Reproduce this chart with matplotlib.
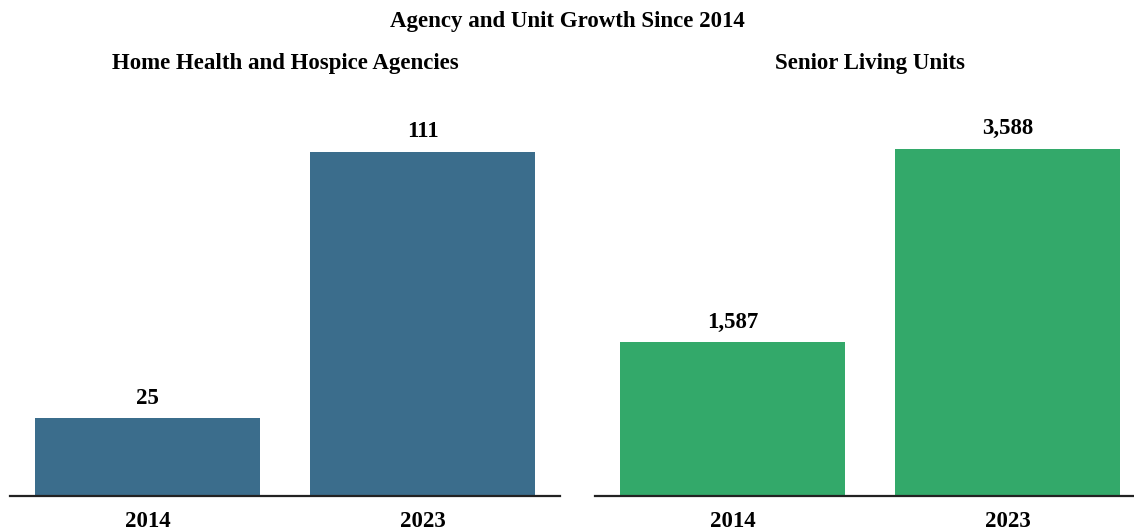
import matplotlib
matplotlib.use("Agg")
import matplotlib.pyplot as plt

plt.rcParams['font.family'] = ['Liberation Serif', 'DejaVu Serif']

suptitle = "Agency and Unit Growth Since 2014"
years = ["2014", "2023"]
agency_title = "Home Health and Hospice Agencies"
agency_values = [25, 111]
units_title = "Senior Living Units"
units_values = [1587, 3588]

W, H = 1134, 531
FS = 16.5
fig = plt.figure(figsize=(W / 100, H / 100), dpi=100)

def px_axes(x0, x1, ytop, ybot):
    return fig.add_axes([x0 / W, (H - ybot) / H, (x1 - x0) / W, (ybot - ytop) / H])

panels = [
    (px_axes(10, 560, 100, 496), agency_title, agency_values, "#3b6d8c", 1.15),
    (px_axes(595, 1145, 100, 496), units_title, units_values, "#33a96a", 1.14),
]

for ax, title, vals, color, top in panels:
    x = list(range(len(years)))
    ax.bar(x, vals, width=0.82, color=color)
    ax.set_xlim(-0.5, 1.5)
    ax.set_ylim(0, max(vals) * top)
    ax.set_xticks(x)
    ax.set_xticklabels(years, fontsize=FS, fontweight='bold')
    ax.tick_params(axis='x', length=0, pad=11)
    ax.set_yticks([])
    for s in ['left', 'right', 'top']:
        ax.spines[s].set_visible(False)
    ax.spines['bottom'].set_linewidth(1.6)
    ax.spines['bottom'].set_color('#222222')
    for xi, v in zip(x, vals):
        ax.annotate(f"{v:,}", (xi, v), xytext=(0, 7), textcoords='offset points',
                    ha='center', va='bottom', fontsize=FS, fontweight='bold')
    pos = ax.get_position()
    fig.text(pos.x0 + pos.width / 2, 1 - 64 / H, title, ha='center', va='center',
             fontsize=FS, fontweight='bold')

fig.text(0.5, 1 - 22 / H, suptitle, ha='center', va='center', fontsize=FS, fontweight='bold')

fig.savefig("out.png", dpi=100)
